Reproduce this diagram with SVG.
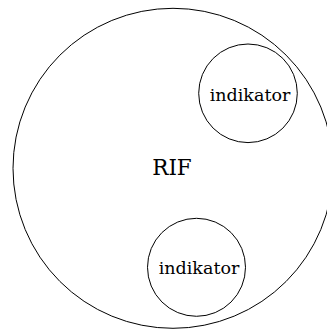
<svg xmlns="http://www.w3.org/2000/svg" width="327" height="331" viewBox="0 0 327 331">
<style>
.c{fill:none;stroke:#000;stroke-width:1}
.t{font-family:"DejaVu Serif","Liberation Serif",serif;fill:#000;text-anchor:middle}
</style>
<rect width="327" height="331" fill="#fff"/>
<g id="rif">
<circle class="c" cx="173" cy="168.3" r="160"/>
<text class="t" x="172" y="175" font-size="21.5">RIF</text>
</g>
<g id="indikator1">
<circle class="c" cx="248" cy="93.3" r="49.3"/>
<text class="t" x="250" y="101" font-size="17.5">indikator</text>
</g>
<g id="indikator2">
<circle class="c" cx="196.5" cy="267.3" r="49"/>
<text class="t" x="199" y="274.3" font-size="17.5">indikator</text>
</g>
<g id="connectors"/>
</svg>
